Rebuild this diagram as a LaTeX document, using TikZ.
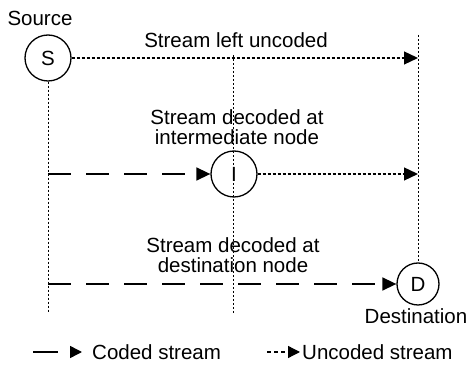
\documentclass[tikz,border=0pt]{standalone}
\usepackage{fontspec}
\setmainfont{Liberation Sans}
\usetikzlibrary{arrows.meta}
\begin{document}
\begin{tikzpicture}[x=1pt,y=-1pt, font=\fontsize{20.5}{20}\selectfont,
 nd/.style={circle,draw,line width=1.3pt,minimum size=46pt,inner sep=0pt},
 lbl/.style={inner sep=0pt,align=center},
 coded/.style={line width=1.5pt,dash pattern=on 23pt off 15pt},
 uncoded/.style={line width=1.3pt,dash pattern=on 3pt off 2pt},
 guide/.style={line width=1pt,dash pattern=on 2pt off 2pt},
 tip/.style={-{Triangle[length=14pt,width=13pt]}}]
\useasboundingbox (0,0) rectangle (475,379);
% nodes
\node[nd] (S) at (48,58) {S};
\node[nd] (I) at (234,174) {I};
\node[nd,minimum size=42pt] (D) at (418,284) {D};
\node[lbl] (src) at (40,18) {Source};
\node[lbl] (dst) at (416,316) {Destination};
\node[lbl] (t1) at (236,40) {Stream left uncoded};
\node[lbl] (t2) at (237,127) {Stream decoded at\\intermediate node};
\node[lbl] (t3) at (233,255) {Stream decoded at\\destination node};
% helper coordinates
\coordinate (e1) at (418,58);
\coordinate (e2) at (418,174);
\coordinate (l2) at (48,174);
\coordinate (l3) at (48,284);
\coordinate (vb) at (48,312);
\coordinate (mt) at (233,55);
\coordinate (mb) at (233,313);
\coordinate (rt) at (418,35);
% guide lines
\draw[guide] (S.south) -- (vb);
\draw[guide] (mt) -- (mb);
\draw[guide] (rt) -- (D.north);
% streams
\draw[uncoded,tip] (S) -- (e1);
\draw[coded,tip] (l2) -- (I);
\draw[uncoded,tip] (I) -- (e2);
\draw[coded,tip] (l3) -- (D);
% legend
\coordinate (c1) at (33,352);
\coordinate (c2) at (82,352);
\draw[line width=1.5pt,dash pattern=on 25pt off 20pt,-{Triangle[length=12pt,width=12pt]}] (c1) -- (c2);
\node[lbl,anchor=west] (lc) at (92,352) {Coded stream};
\coordinate (u1) at (267,352);
\coordinate (u2) at (300,352);
\draw[line width=1.3pt,dash pattern=on 4pt off 3pt,-{Triangle[length=12pt,width=12pt]}] (u1) -- (u2);
\node[lbl,anchor=west] (lu) at (302,352) {Uncoded stream};
\end{tikzpicture}
\end{document}
